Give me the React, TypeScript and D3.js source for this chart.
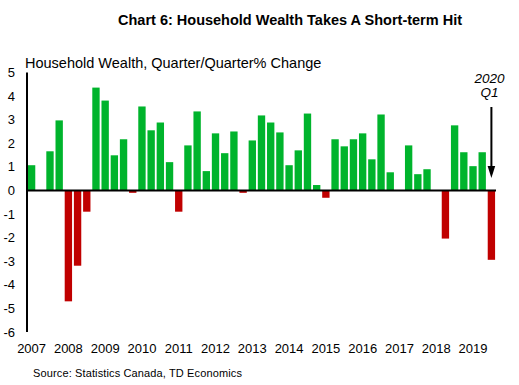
import React from "react";
import * as d3 from "d3";

const categories = [
  "2007Q3","2007Q4",
  "2008Q1","2008Q2","2008Q3","2008Q4",
  "2009Q1","2009Q2","2009Q3","2009Q4",
  "2010Q1","2010Q2","2010Q3","2010Q4",
  "2011Q1","2011Q2","2011Q3","2011Q4",
  "2012Q1","2012Q2","2012Q3","2012Q4",
  "2013Q1","2013Q2","2013Q3","2013Q4",
  "2014Q1","2014Q2","2014Q3","2014Q4",
  "2015Q1","2015Q2","2015Q3","2015Q4",
  "2016Q1","2016Q2","2016Q3","2016Q4",
  "2017Q1","2017Q2","2017Q3","2017Q4",
  "2018Q1","2018Q2","2018Q3","2018Q4",
  "2019Q1","2019Q2","2019Q3","2019Q4",
  "2020Q1",
];

const values = [
  1.07, 0.0,
  1.66, 2.97, -4.7, -3.19,
  -0.9, 4.36, 3.81, 1.49,
  2.17, -0.1, 3.56, 2.55,
  2.88, 1.2, -0.9, 1.91,
  3.35, 0.82, 2.42, 1.58,
  2.5, -0.1, 2.12, 3.18,
  2.88, 2.46, 1.07, 1.7,
  3.26, 0.23, -0.31, 2.17,
  1.87, 2.17, 2.42, 1.32,
  3.22, 0.77, 0.0, 1.91,
  0.69, 0.9, 0.0, -2.04,
  2.76, 1.62, 1.03, 1.62,
  -2.94,
];

const yearLabels = ["2007","2008","2009","2010","2011","2012","2013","2014","2015","2016","2017","2018","2019"];
const yTicks = [5, 4, 3, 2, 1, 0, -1, -2, -3, -4, -5, -6];

const FONT = "'Liberation Sans', Arial, sans-serif";

export default function App() {
  const W = 519, H = 385;
  const x = d3.scaleBand<string>().domain(categories).range([27, 496]).paddingInner(0.2).paddingOuter(0.1);
  const y = d3.scaleLinear().domain([-6, 5]).range([332, 72.5]);
  const last = categories[categories.length - 1];
  const ax = (x(last) as number) + x.bandwidth() / 2;

  return (
    <svg width={W} height={H} style={{ position: "absolute", left: 0, top: 0, background: "#fff" }} fontFamily={FONT}>
      <rect x={0} y={0} width={W} height={H} fill="#fff" />
      <text x={290} y={25} textAnchor="middle" fontSize={14.5} fontWeight="bold" fill="#000">
        Chart 6: Household Wealth Takes A Short-term Hit
      </text>
      <text x={25} y={68} fontSize={14.5} fill="#000">Household Wealth, Quarter/Quarter% Change</text>

      {values.map((v, i) => (
        <rect
          key={categories[i]}
          x={x(categories[i])}
          width={x.bandwidth()}
          y={y(Math.max(0, v))}
          height={Math.abs(y(v) - y(0))}
          fill={v >= 0 ? "#00B42C" : "#C00000"}
        />
      ))}

      <line x1={27} x2={27} y1={72.5} y2={332} stroke="#000" strokeWidth={2} />
      <line x1={26} x2={496} y1={y(0)} y2={y(0)} stroke="#000" strokeWidth={2} />

      {yTicks.map((t) => (
        <text key={t} x={15} y={y(t) + 4.5} textAnchor="end" fontSize={13} fill="#000">{t}</text>
      ))}

      {yearLabels.map((lab, k) => {
        const c = categories[k * 4];
        return (
          <text key={lab} x={(x(c) as number) + x.bandwidth() / 2} y={353} textAnchor="middle" fontSize={13} fill="#000">{lab}</text>
        );
      })}

      <text x={489.5} y={83} textAnchor="middle" fontSize={13.5} fontStyle="italic" fill="#000">2020</text>
      <text x={489.5} y={97} textAnchor="middle" fontSize={13.5} fontStyle="italic" fill="#000">Q1</text>
      <line x1={ax} x2={ax} y1={107} y2={168} stroke="#000" strokeWidth={2} />
      <path d={`M${ax - 3.8},${166} L${ax + 3.8},${166} L${ax},${178} Z`} fill="#000" />

      <text x={33} y={377} fontSize={11} letterSpacing={0.13} fill="#000">Source: Statistics Canada, TD Economics</text>
    </svg>
  );
}
